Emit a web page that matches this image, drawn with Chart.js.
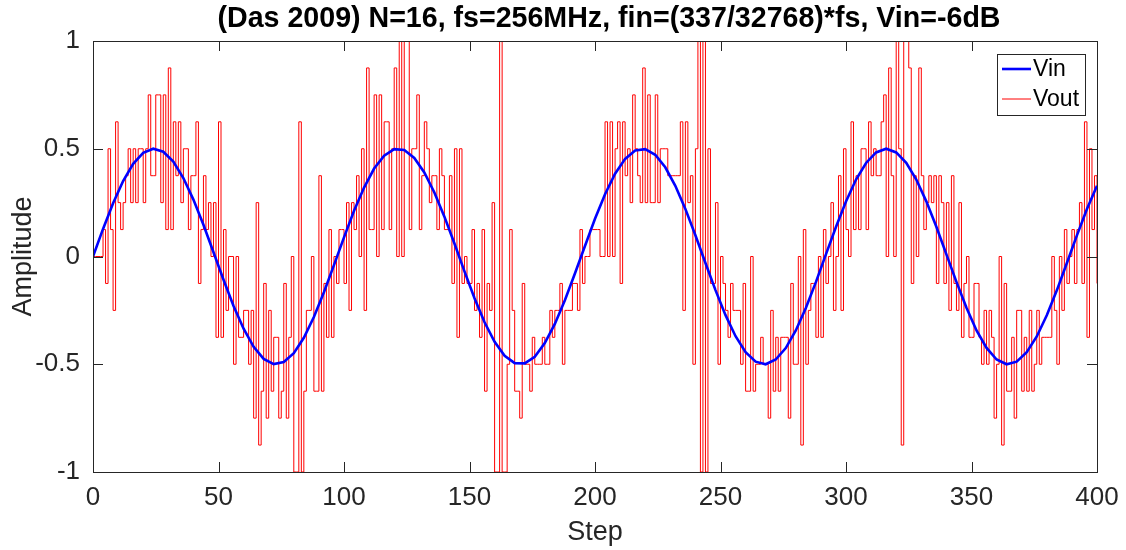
<!DOCTYPE html>
<html><head><meta charset="utf-8">
<script src="https://cdn.jsdelivr.net/npm/chart.js@4/dist/chart.umd.min.js"></script>
<style>html,body{margin:0;padding:0;background:#fff;}canvas{display:block;}</style>
</head><body>
<canvas id="c" width="1126" height="550"></canvas>
<script>
const titleText = "(Das 2009) N=16, fs=256MHz, fin=(337/32768)*fs, Vin=-6dB";
const xLabel = "Step";
const yLabel = "Amplitude";
const seriesNames = ["Vin", "Vout"];
const xTickValues = [0, 50, 100, 150, 200, 250, 300, 350, 400];
const yTickValues = [-1, -0.5, 0, 0.5, 1];

const vinStep = [0,4,8,12,16,20,24,28,32,36,40,44,48,52,56,60,64,68,72,76,80,84,88,92,96,100,
104,108,112,116,120,124,128,132,136,140,144,148,152,156,160,164,168,172,176,180,184,188,192,196,200,
204,208,212,216,220,224,228,232,236,240,244,248,252,256,260,264,268,272,276,280,284,288,292,296,300,
304,308,312,316,320,324,328,332,336,340,344,348,352,356,360,364,368,372,376,380,384,388,392,396,400];

const vinValues = [
0,0.128,0.247,0.350,0.430,0.481,0.500,0.486,0.440,0.364,
0.264,0.147,0.020,-0.108,-0.230,-0.335,-0.419,-0.475,-0.499,-0.490,
-0.449,-0.377,-0.281,-0.166,-0.040,0.089,0.212,0.320,0.408,0.468,
0.498,0.494,0.457,0.390,0.297,0.185,0.060,-0.069,-0.194,-0.305,
-0.396,-0.461,-0.495,-0.496,-0.465,-0.402,-0.313,-0.203,-0.079,0.049,
0.175,0.289,0.384,0.453,0.492,0.498,0.472,0.414,0.328,0.221,
0.099,-0.030,-0.156,-0.272,-0.370,-0.444,-0.488,-0.500,-0.478,-0.425,
-0.343,-0.239,-0.119,0.010,0.137,0.255,0.357,0.434,0.483,0.500,
0.483,0.435,0.357,0.256,0.138,0.010,-0.118,-0.238,-0.343,-0.424,
-0.478,-0.500,-0.488,-0.444,-0.371,-0.273,-0.157,-0.030,0.098,0.220,
0.328];

const voutValues = [
0,0,0,0,0.125,-0.125,0.5,0.125,-0.25,0.625,
0.25,0.125,0.25,0.375,0.5,0.25,0.5,0.25,0.5,0.5,
0.25,0.5,0.75,0.375,0.375,0.75,0.75,0.25,0.75,0.125,
0.875,0.125,0.625,0.375,0.625,0.25,0.5,0.5,0.125,0.375,
0.375,0.625,-0.125,0.125,0.375,0.125,0.25,0,0.25,-0.375,
0.625,-0.375,0.125,-0.25,0,0,-0.5,0,-0.375,-0.375,
-0.25,-0.25,-0.5,-0.25,-0.75,0.25,-0.875,-0.625,-0.125,-0.75,
-0.25,-0.625,-0.375,-0.375,-0.75,-0.625,-0.125,-0.75,-0.375,0,
-1,-1,0.625,-1,-0.625,-0.25,-0.25,0,-0.625,-0.625,
0.375,-0.625,-0.125,-0.375,0.125,-0.375,0,-0.125,0.125,0.125,
-0.125,0.25,-0.25,0.25,0.125,0.375,0,0.5,-0.25,0.875,
0.125,0.125,0.75,0,0.75,0.125,0.625,0.625,0.125,0.5,
0.875,0,1,0,1,1,0.125,0.5,0.5,0.75,
0.125,0.375,0.625,0.5,0.25,0.375,0.375,0.125,0.5,0.375,
0.125,0.125,0.375,-0.125,0.5,-0.375,0.5,-0.125,0,-0.125,
-0.125,0.125,-0.25,-0.125,-0.375,0.125,-0.625,-0.125,-0.25,0.25,
-1,-1,1,-1,-1,-0.5,0.125,-0.25,-0.625,-0.625,
-0.75,-0.125,-0.5,-0.5,-0.625,-0.375,-0.5,-0.5,-0.5,-0.375,
-0.5,-0.5,-0.25,-0.375,-0.25,-0.25,-0.125,-0.5,-0.25,-0.25,
-0.25,-0.125,-0.125,-0.25,0.125,-0.125,0,0,0.125,0.125,
0.125,0.125,0,0,0.625,0,0.625,0,0.5,0.625,
-0.125,0.625,0.375,0.5,0.25,0.75,0.5,0.375,0.25,0.875,
0.25,0.75,0.25,0.25,0.75,0.25,0.5,0.5,0.5,0.375,
0.375,0.375,0.375,0.375,0.625,-0.25,0.625,0.25,0.375,-0.5,
0.5,1,-1,1,-1,0.5,-0.125,-0.125,0.25,-0.5,
0,-0.125,-0.25,-0.375,-0.125,-0.25,-0.25,-0.25,-0.5,-0.125,
-0.625,-0.625,0,-0.625,-0.5,-0.5,-0.375,-0.5,-0.5,-0.75,
-0.25,-0.625,-0.375,-0.625,-0.375,-0.375,-0.375,-0.75,-0.125,-0.5,
-0.5,0,-0.875,0.125,-0.5,-0.25,-0.125,-0.125,-0.375,0,
-0.375,0.125,-0.125,0,0.25,-0.25,0,0.375,-0.25,0.5,
0.125,0,0.625,0.125,0.375,0.125,0.5,0.5,0.125,0.625,
0.375,0.5,0.375,0.375,0.625,0.75,0,0.875,0.375,0,
1,0.5,-0.875,1,1,0.875,-0.125,0.375,0,0.875,
0.375,0.125,0.25,0.375,0.25,0.375,-0.125,0.375,0.25,-0.125,
0.25,-0.25,0.375,-0.125,-0.25,0.25,-0.375,-0.125,0,-0.375,
-0.375,-0.125,-0.125,-0.375,-0.5,-0.25,-0.5,-0.25,-0.375,-0.75,
-0.5,0,-0.875,-0.125,-0.625,-0.625,-0.375,-0.75,-0.25,-0.25,
-0.625,-0.375,-0.625,-0.25,-0.625,-0.5,-0.25,-0.5,-0.375,-0.375,
-0.375,-0.375,0,-0.25,-0.5,0,-0.25,0.125,-0.125,0,
0.125,-0.125,0.125,0.25,-0.125,0.625,-0.375,0.5,0.125,0.375,
-0.125];

const FONT = "'Liberation Sans', Arial, Helvetica, sans-serif";
const TXT = '#262626';

const axesBox = {
  id: 'axesBox',
  afterDatasetsDraw(chart) {
    const {ctx, chartArea: a, scales: {x, y}} = chart;
    const L = 10;
    ctx.save();
    ctx.strokeStyle = TXT;
    ctx.lineWidth = 1;
    ctx.beginPath();
    x.ticks.forEach(t => {
      const px = Math.round(x.getPixelForValue(t.value)) + 0.5;
      ctx.moveTo(px, a.bottom); ctx.lineTo(px, a.bottom - L);
      ctx.moveTo(px, a.top); ctx.lineTo(px, a.top + L);
    });
    y.ticks.forEach(t => {
      const py = Math.round(y.getPixelForValue(t.value)) + 0.5;
      ctx.moveTo(a.left, py); ctx.lineTo(a.left + L, py);
      ctx.moveTo(a.right, py); ctx.lineTo(a.right - L, py);
    });
    ctx.stroke();
    ctx.strokeRect(Math.round(a.left) + 0.5, Math.round(a.top) + 0.5,
                   Math.round(a.right - a.left), Math.round(a.bottom - a.top));
    ctx.restore();
  }
};

const plotTitle = {
  id: 'plotTitle',
  afterDraw(chart) {
    const {ctx, chartArea: a} = chart;
    ctx.save();
    ctx.font = 'bold 28.6px ' + FONT;
    ctx.fillStyle = '#000';
    ctx.textAlign = 'center';
    ctx.textBaseline = 'middle';
    ctx.fillText(titleText, (a.left + a.right) / 2 + 14, a.top / 2 - 1);
    ctx.restore();
  }
};

const boxLegend = {
  id: 'boxLegend',
  afterDraw(chart) {
    const {ctx, chartArea: a} = chart;
    const w = 88, h = 61;
    const x0 = a.right - 12 - w, y0 = a.top + 13;
    ctx.save();
    ctx.fillStyle = '#fff';
    ctx.fillRect(x0, y0, w, h);
    ctx.strokeStyle = TXT;
    ctx.lineWidth = 1;
    ctx.strokeRect(Math.round(x0) + 0.5, Math.round(y0) + 0.5, w, h);
    ctx.font = '23px ' + FONT;
    ctx.textBaseline = 'middle';
    ctx.textAlign = 'left';
    chart.data.datasets.forEach((ds, i) => {
      const yy = y0 + 15 + i * 30;
      ctx.strokeStyle = ds.borderColor;
      ctx.lineWidth = ds.borderWidth;
      ctx.beginPath();
      ctx.moveTo(x0 + 5, yy); ctx.lineTo(x0 + 34, yy);
      ctx.stroke();
      ctx.fillStyle = '#000';
      ctx.fillText(ds.label, x0 + 36, yy + 1);
    });
    ctx.restore();
  }
};

new Chart(document.getElementById('c'), {
  type: 'line',
  data: {
    datasets: [
      {
        label: seriesNames[0],
        data: vinStep.map((s, i) => ({x: s, y: vinValues[i]})),
        borderColor: '#0000ff',
        borderWidth: 2.6,
        pointRadius: 0,
        tension: 0,
        order: 0
      },
      {
        label: seriesNames[1],
        data: voutValues.map((v, i) => ({x: i, y: v})),
        borderColor: '#ff0000',
        borderWidth: 1,
        pointRadius: 0,
        stepped: 'before',
        order: 1
      }
    ]
  },
  options: {
    responsive: false,
    animation: false,
    devicePixelRatio: 1,
    layout: {padding: {left: 0, right: 29, top: 41, bottom: 0}},
    plugins: {
      legend: {display: false},
      tooltip: {enabled: false},
      title: {display: false}
    },
    scales: {
      x: {
        type: 'linear',
        min: 0, max: 400,
        afterFit(s) { s.height = 78; s.paddingLeft = 0; s.paddingRight = 0; },
        afterBuildTicks(s) { s.ticks = xTickValues.map(v => ({value: v})); },
        grid: {display: false, drawTicks: false},
        border: {display: false},
        ticks: {color: TXT, font: {family: FONT, size: 26}, padding: 10, maxRotation: 0,
                callback: v => String(v)},
        title: {display: true, text: xLabel, color: TXT,
                font: {family: FONT, size: 27, lineHeight: 1.2}, padding: {top: 0, bottom: 1}}
      },
      y: {
        type: 'linear',
        min: -1, max: 1,
        afterFit(s) { s.width = 93; s.paddingTop = 0; s.paddingBottom = 0; },
        afterBuildTicks(s) { s.ticks = yTickValues.map(v => ({value: v})); },
        grid: {display: false, drawTicks: false},
        border: {display: false},
        ticks: {color: TXT, font: {family: FONT, size: 26}, padding: 13,
                callback: v => String(v)},
        title: {display: true, text: yLabel, color: TXT,
                font: {family: FONT, size: 27, lineHeight: 1.2}, padding: {top: 7, bottom: 0}}
      }
    }
  },
  plugins: [axesBox, boxLegend, plotTitle]
});
</script>
</body></html>
